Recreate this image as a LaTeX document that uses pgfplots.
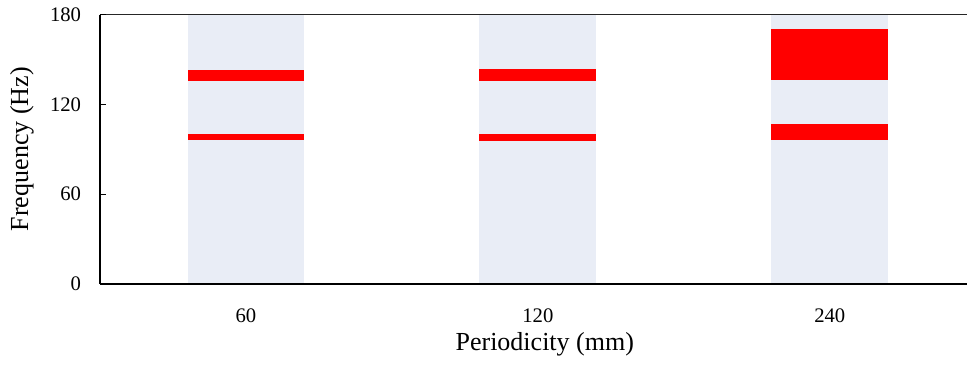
\documentclass[border=0pt]{standalone}
\usepackage{pgfplots}
\pgfplotsset{compat=1.18}
\usepackage{fontspec}
\setmainfont{Liberation Serif}
\definecolor{bandgray}{RGB}{233,237,246}
\definecolor{bandred}{RGB}{255,0,0}
\begin{document}
\begin{tikzpicture}
\begin{axis}[
  scale only axis,
  width=650.25pt, height=202.1pt,
  xmin=-0.5, xmax=2.47,
  ymin=0, ymax=180,
  ytick={0,60,120,180},
  xtick={0,1,2},
  xticklabels={60,120,240},
  axis x line*=bottom,
  axis y line*=left,
  axis line style={line width=1.1pt, black},
  x tick style={draw=none},
  y tick style={line width=0.8pt, black},
  tick align=inside,
  major tick length=4.5pt,
  tick label style={font=\fontsize{15.5}{18}\selectfont},
  label style={font=\fontsize{19.5}{22}\selectfont},
  /pgf/number format/assume math mode=true,
  xticklabel style={anchor=base, inner sep=0pt, yshift=-29.25pt},
  yticklabel style={anchor=east, inner sep=0pt, xshift=-14pt},
  xlabel={Periodicity (mm)},
  ylabel={Frequency (Hz)},
  xlabel style={at={(axis description cs:0.513,0)}, anchor=base, inner sep=0pt, yshift=-50.25pt},
  ylabel style={at={(axis description cs:-0.09,0.5)}, anchor=center, inner sep=0pt},
  clip=false,
  axis on top,
]
% grey background columns
\addplot[fill=bandgray, draw=none] coordinates {(-0.2,0) (0.2,0) (0.2,180) (-0.2,180)} --cycle;
\addplot[fill=bandgray, draw=none] coordinates {(0.8,0) (1.2,0) (1.2,180) (0.8,180)} --cycle;
\addplot[fill=bandgray, draw=none] coordinates {(1.8,0) (2.2,0) (2.2,180) (1.8,180)} --cycle;
% red bands
\addplot[fill=bandred, draw=none] coordinates {(-0.2,135.5) (0.2,135.5) (0.2,143) (-0.2,143)} --cycle;
\addplot[fill=bandred, draw=none] coordinates {(-0.2,96) (0.2,96) (0.2,100) (-0.2,100)} --cycle;
\addplot[fill=bandred, draw=none] coordinates {(0.8,135.5) (1.2,135.5) (1.2,143.5) (0.8,143.5)} --cycle;
\addplot[fill=bandred, draw=none] coordinates {(0.8,95.5) (1.2,95.5) (1.2,100) (0.8,100)} --cycle;
\addplot[fill=bandred, draw=none] coordinates {(1.8,136) (2.2,136) (2.2,170) (1.8,170)} --cycle;
\addplot[fill=bandred, draw=none] coordinates {(1.8,96) (2.2,96) (2.2,107) (1.8,107)} --cycle;
\draw[line width=1.1pt, black!85] (rel axis cs:0,1) -- (rel axis cs:1,1);
\coordinate (bl) at (rel axis cs:0,0);
\coordinate (tr) at (rel axis cs:1,1);
\end{axis}
\pgfresetboundingbox
\useasboundingbox ([xshift=-75pt,yshift=-61.5pt]bl) rectangle ([yshift=10.9pt]tr);
\end{tikzpicture}
\end{document}
